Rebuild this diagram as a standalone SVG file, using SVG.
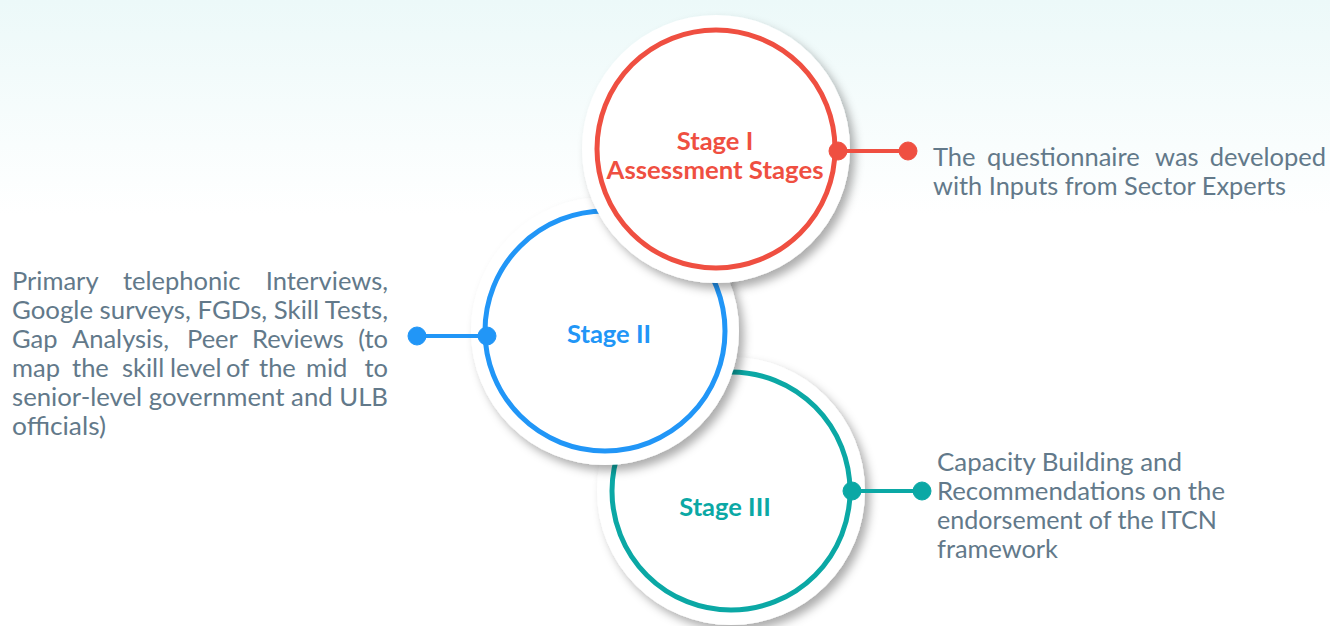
<svg xmlns="http://www.w3.org/2000/svg" width="1330" height="626" viewBox="0 0 1330 626">
<defs>
<linearGradient id="bg" x1="0" y1="0" x2="0" y2="1">
<stop offset="0" stop-color="#ecf9f9"/>
<stop offset="1" stop-color="#ffffff"/>
</linearGradient>
<filter id="sh" x="-30%" y="-30%" width="170%" height="170%">
<feDropShadow dx="5" dy="6" stdDeviation="5" flood-color="#000" flood-opacity="0.32"/>
</filter>
<style>
.disc{fill:#ffffff;filter:url(#sh)}
.ring{fill:none;stroke-width:5}
.lbl{font-family:Lato,"Liberation Sans",sans-serif;font-weight:bold;font-size:25.5px;text-anchor:middle}
.desc{font-family:Lato,"Liberation Sans",sans-serif;font-size:25.5px;fill:#62798a}
.end{text-anchor:end}
.red{stroke:#ef4f41;fill:#ef4f41}
.blue{stroke:#2196f7;fill:#2196f7}
.teal{stroke:#0ba8a5;fill:#0ba8a5}
.line{stroke-width:4}
</style>
</defs>
<rect width="1330" height="626" fill="#ffffff"/>
<rect width="1330" height="215" fill="url(#bg)"/>

<g id="stage3">
<circle class="disc" cx="731" cy="491" r="134"/>
<circle class="ring" cx="731" cy="491" r="119" stroke="#0ba8a5"/>
<text class="lbl" x="725" y="516" fill="#0ba8a5">Stage III</text>
</g>

<g id="stage2">
<circle class="disc" cx="605" cy="331" r="134"/>
<circle class="ring" cx="605" cy="331" r="120" stroke="#2196f7"/>
<text class="lbl" x="609" y="343" fill="#2196f7">Stage II</text>
</g>

<g id="stage1">
<circle class="disc" cx="716" cy="149" r="134"/>
<circle class="ring" cx="716" cy="149" r="119" stroke="#ef4f41"/>
<text class="lbl" x="715" y="150" fill="#ef4f41">Stage I</text>
<text class="lbl" x="715" y="179" fill="#ef4f41" textLength="217" lengthAdjust="spacingAndGlyphs">Assessment Stages</text>
</g>

<g id="connectors">
<line class="line red" x1="838" y1="151" x2="908" y2="151"/>
<circle class="red" cx="838" cy="151" r="9"/>
<circle class="red" cx="908" cy="151" r="9"/>
<line class="line blue" x1="417" y1="336" x2="487" y2="336"/>
<circle class="blue" cx="487" cy="336" r="9"/>
<circle class="blue" cx="417" cy="336" r="9"/>
<line class="line teal" x1="852" y1="491" x2="922" y2="491"/>
<circle class="teal" cx="852" cy="491" r="9"/>
<circle class="teal" cx="922" cy="491" r="9"/>
</g>

<g id="text-stage1">
<text class="desc" y="166"><tspan x="933">The</tspan><tspan x="987">questionnaire</tspan><tspan x="1155">was</tspan><tspan class="end" x="1326">developed</tspan></text>
<text class="desc" x="933" y="195" textLength="353" lengthAdjust="spacingAndGlyphs">with Inputs from Sector Experts</text>
</g>

<g id="text-stage2">
<text class="desc" y="290"><tspan x="12">Primary</tspan><tspan x="123">telephonic</tspan><tspan class="end" x="388">Interviews,</tspan></text>
<text class="desc" x="12" y="319" textLength="376" lengthAdjust="spacingAndGlyphs">Google surveys, FGDs, Skill Tests,</text>
<text class="desc" y="348"><tspan x="12">Gap</tspan><tspan x="72">Analysis,</tspan><tspan x="187">Peer</tspan><tspan x="252">Reviews</tspan><tspan class="end" x="388">(to</tspan></text>
<text class="desc" y="377"><tspan x="12">map</tspan><tspan x="72">the</tspan><tspan x="122">skill</tspan><tspan x="170">level</tspan><tspan x="226">of</tspan><tspan x="259">the</tspan><tspan x="306">mid</tspan><tspan class="end" x="388">to</tspan></text>
<text class="desc" x="12" y="406" textLength="376" lengthAdjust="spacingAndGlyphs">senior-level government and ULB</text>
<text class="desc" x="12" y="435" textLength="94" lengthAdjust="spacingAndGlyphs">officials)</text>
</g>

<g id="text-stage3">
<text class="desc" x="937" y="471" textLength="245" lengthAdjust="spacingAndGlyphs">Capacity Building and</text>
<text class="desc" x="937" y="500" textLength="288" lengthAdjust="spacingAndGlyphs">Recommendations on the</text>
<text class="desc" x="937" y="529" textLength="280" lengthAdjust="spacingAndGlyphs">endorsement of the ITCN</text>
<text class="desc" x="937" y="558" textLength="121" lengthAdjust="spacingAndGlyphs">framework</text>
</g>
</svg>
